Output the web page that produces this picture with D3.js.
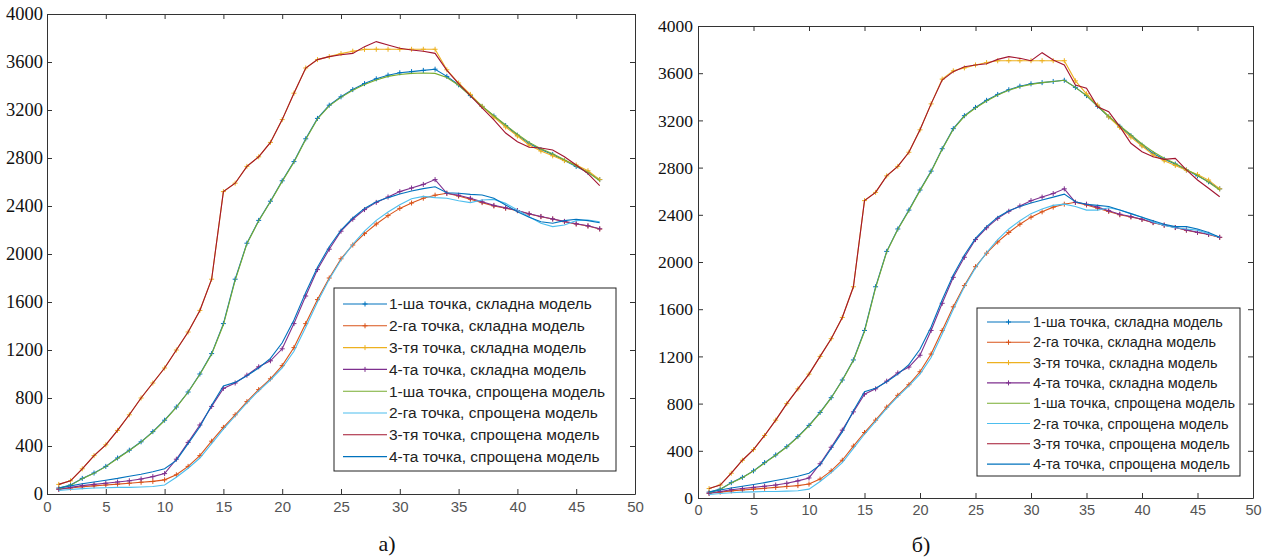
<!DOCTYPE html>
<html>
<head>
<meta charset="utf-8">
<script src="https://cdn.jsdelivr.net/npm/d3@7"></script>
<style>
  body { margin: 0; background: #fff; }
  svg { display: block; }
  .ylab text { font-family: "Liberation Serif", "Times New Roman", serif; }
  .xlab text { font-family: "Liberation Sans", Arial, sans-serif; }
</style>
</head>
<body>
<div id="chart"></div>
<script>
// time steps (x axis)
const steps = [1,2,3,4,5,6,7,8,9,10,11,12,13,14,15,16,17,18,19,20,21,22,23,24,25,26,27,28,29,30,31,32,33,34,35,36,37,38,39,40,41,42,43,44,45,46,47];

const xTicks = [0,5,10,15,20,25,30,35,40,45,50];
const yTicks = [0,400,800,1200,1600,2000,2400,2800,3200,3600,4000];

const seriesNames = [
  "1-ша точка, складна модель",
  "2-га точка, складна модель",
  "3-тя точка, складна модель",
  "4-та точка, складна модель",
  "1-ша точка, спрощена модель",
  "2-га точка, спрощена модель",
  "3-тя точка, спрощена модель",
  "4-та точка, спрощена модель"
];
const seriesColors = ["#0072BD","#D95319","#EDB120","#7E2F8E","#77AC30","#4DBEEE","#A2142F","#0072BD"];

// complex model (same in both panels)
const complex1 = [50,75,130,175,230,300,365,435,520,615,725,850,1000,1170,1420,1790,2090,2280,2440,2610,2770,2960,3130,3240,3310,3370,3420,3460,3490,3510,3520,3530,3540,3480,3410,3320,3230,3150,3070,2990,2920,2870,2830,2780,2730,2680,2620];
const complex2 = [40,50,60,68,75,82,90,98,105,118,160,230,320,440,555,660,770,870,960,1070,1220,1420,1620,1800,1960,2075,2170,2250,2320,2380,2425,2465,2490,2506,2483,2456,2428,2400,2381,2361,2333,2311,2292,2269,2250,2233,2208];
const complex3 = [80,110,210,320,410,530,660,800,925,1050,1200,1350,1530,1790,2520,2590,2730,2810,2930,3120,3340,3550,3620,3645,3670,3690,3705,3706,3706,3706,3706,3706,3706,3535,3425,3330,3230,3140,3058,2983,2908,2858,2818,2778,2742,2694,2620];
const complex4 = [40,55,70,80,90,100,110,125,145,170,290,430,575,730,880,925,990,1060,1110,1210,1420,1650,1870,2040,2190,2290,2370,2430,2475,2520,2550,2580,2620,2506,2490,2465,2435,2405,2385,2362,2335,2313,2292,2272,2252,2235,2210];

// simplified model, panel а)
const simpleA1 = [45,72,128,172,228,296,362,432,516,612,722,848,996,1165,1410,1780,2085,2275,2435,2605,2765,2955,3125,3235,3305,3365,3412,3450,3480,3496,3505,3508,3505,3470,3405,3318,3232,3152,3075,2998,2930,2878,2835,2785,2735,2680,2610];
const simpleA2 = [30,38,45,50,52,55,55,58,62,75,140,215,300,420,540,650,760,860,950,1050,1190,1390,1600,1790,1950,2080,2190,2280,2350,2410,2460,2480,2470,2464,2444,2428,2450,2455,2422,2367,2311,2256,2228,2242,2278,2283,2269];
const simpleA3 = [80,110,210,320,410,530,660,800,925,1050,1200,1350,1530,1790,2520,2590,2730,2810,2930,3120,3340,3550,3620,3645,3660,3672,3728,3770,3742,3714,3700,3690,3672,3530,3420,3320,3217,3117,3008,2936,2890,2883,2867,2811,2742,2670,2570];
const simpleA4 = [50,68,85,100,115,130,148,165,185,210,280,420,560,740,900,930,985,1050,1130,1260,1450,1680,1890,2060,2200,2300,2380,2435,2470,2500,2525,2545,2560,2510,2506,2497,2492,2464,2408,2353,2306,2269,2256,2278,2289,2278,2261];

// simplified model, panel б)
const simpleB1 = [45,72,128,172,228,296,362,432,516,612,722,848,996,1165,1410,1780,2085,2275,2435,2605,2765,2955,3125,3235,3305,3365,3415,3455,3485,3505,3520,3530,3540,3480,3410,3322,3235,3155,3080,3000,2935,2880,2835,2785,2735,2675,2610];
const simpleB2 = [30,38,45,50,52,55,55,58,62,75,140,215,300,420,540,650,760,860,950,1050,1190,1390,1600,1790,1950,2080,2190,2280,2350,2410,2450,2480,2490,2470,2440,2440,2460,2440,2410,2380,2340,2310,2290,2280,2270,2240,2210];
const simpleB3 = [80,110,210,320,410,530,660,800,925,1050,1200,1350,1530,1790,2520,2590,2730,2810,2930,3120,3340,3542,3613,3655,3670,3680,3717,3740,3726,3706,3774,3712,3670,3500,3472,3316,3274,3147,3006,2935,2892,2870,2878,2780,2695,2625,2553];
const simpleB4 = [50,68,85,100,115,130,148,165,185,210,280,420,560,740,900,930,985,1050,1130,1260,1450,1680,1890,2060,2200,2300,2380,2435,2470,2500,2525,2550,2575,2510,2490,2480,2470,2440,2410,2380,2350,2320,2300,2300,2280,2250,2210];

const panels = [
  {
    caption: "а)", series: [complex1, complex2, complex3, complex4, simpleA1, simpleA2, simpleA3, simpleA4],
    left: 47, right: 635, top: 14, bottom: 494,
    yFont: 18.5, xFont: 15, yPad: 4,
    legend: { x: 334, y: 288, w: 282, h: 183, row0: 304, step: 21.8, l1: 343, l2: 387, tx: 389, font: 15.5 },
    capX: 387, capY: 551
  },
  {
    caption: "б)", series: [complex1, complex2, complex3, complex4, simpleB1, simpleB2, simpleB3, simpleB4],
    left: 698, right: 1253, top: 26, bottom: 498,
    yFont: 17.5, xFont: 14.5, yPad: 5,
    legend: { x: 977, y: 308, w: 263, h: 168, row0: 322, step: 20.3, l1: 987, l2: 1030, tx: 1033, font: 14.5 },
    capX: 921, capY: 552
  }
];

const svg = d3.select("#chart").append("svg")
  .attr("width", 1266)
  .attr("height", 559);

const plusPath = "M-2.5,0H2.5M0,-2.5V2.5";

panels.forEach(p => {
  const x = d3.scaleLinear().domain([0, 50]).range([p.left, p.right]);
  const y = d3.scaleLinear().domain([0, 4000]).range([p.bottom, p.top]);
  const g = svg.append("g");

  // box + inward ticks on all four sides
  const axisColor = "#333";
  g.append("g").attr("class", "xlab").attr("transform", `translate(0,${p.bottom})`)
    .call(d3.axisBottom(x).tickValues(xTicks).tickSizeInner(-5).tickSizeOuter(0).tickPadding(7))
    .attr("font-family", null)
    .call(a => a.selectAll("text").style("font-size", p.xFont + "px").attr("fill", "#555"));
  g.append("g").attr("transform", `translate(0,${p.top})`)
    .call(d3.axisTop(x).tickValues(xTicks).tickSizeInner(-5).tickSizeOuter(0).tickFormat(""));
  g.append("g").attr("class", "ylab").attr("transform", `translate(${p.left},0)`)
    .call(d3.axisLeft(y).tickValues(yTicks).tickSizeInner(-5).tickSizeOuter(0).tickPadding(p.yPad).tickFormat(d3.format("d")))
    .attr("font-family", null)
    .call(a => a.selectAll("text").style("font-size", p.yFont + "px").attr("fill", "#111"));
  g.append("g").attr("transform", `translate(${p.right},0)`)
    .call(d3.axisRight(y).tickValues(yTicks).tickSizeInner(-5).tickSizeOuter(0).tickFormat(""));
  g.selectAll(".domain, .tick line").attr("stroke", axisColor);

  // lines
  const line = d3.line().x((d, i) => x(steps[i])).y(d => y(d));
  p.series.forEach((vals, si) => {
    g.append("path")
      .datum(vals)
      .attr("fill", "none")
      .attr("stroke", seriesColors[si])
      .attr("stroke-width", 1.1)
      .attr("d", line);
    if (si < 4) {
      g.append("g").selectAll("path")
        .data(vals)
        .join("path")
        .attr("transform", (d, i) => `translate(${x(steps[i])},${y(d)})`)
        .attr("d", plusPath)
        .attr("stroke", seriesColors[si])
        .attr("stroke-width", 1);
    }
  });

  // legend
  const L = p.legend;
  const lg = g.append("g");
  lg.append("rect")
    .attr("x", L.x).attr("y", L.y).attr("width", L.w).attr("height", L.h)
    .attr("fill", "#fff").attr("stroke", "#222").attr("stroke-width", 1);
  seriesNames.forEach((name, i) => {
    const ry = L.row0 + i * L.step;
    lg.append("line")
      .attr("x1", L.l1).attr("x2", L.l2).attr("y1", ry).attr("y2", ry)
      .attr("stroke", seriesColors[i]).attr("stroke-width", 1.1);
    if (i < 4) {
      lg.append("path")
        .attr("transform", `translate(${(L.l1 + L.l2) / 2},${ry})`)
        .attr("d", plusPath)
        .attr("stroke", seriesColors[i]);
    }
    lg.append("text")
      .attr("x", L.tx).attr("y", ry).attr("dy", "0.35em")
      .style("font-family", "'Liberation Sans', Arial, sans-serif")
      .style("font-size", L.font + "px")
      .attr("fill", "#222")
      .text(name);
  });

  // caption
  g.append("text")
    .attr("x", p.capX).attr("y", p.capY)
    .attr("text-anchor", "middle")
    .style("font-family", "'Liberation Serif', 'Times New Roman', serif")
    .style("font-size", "22px")
    .attr("fill", "#111")
    .text(p.caption);
});
</script>
</body>
</html>
